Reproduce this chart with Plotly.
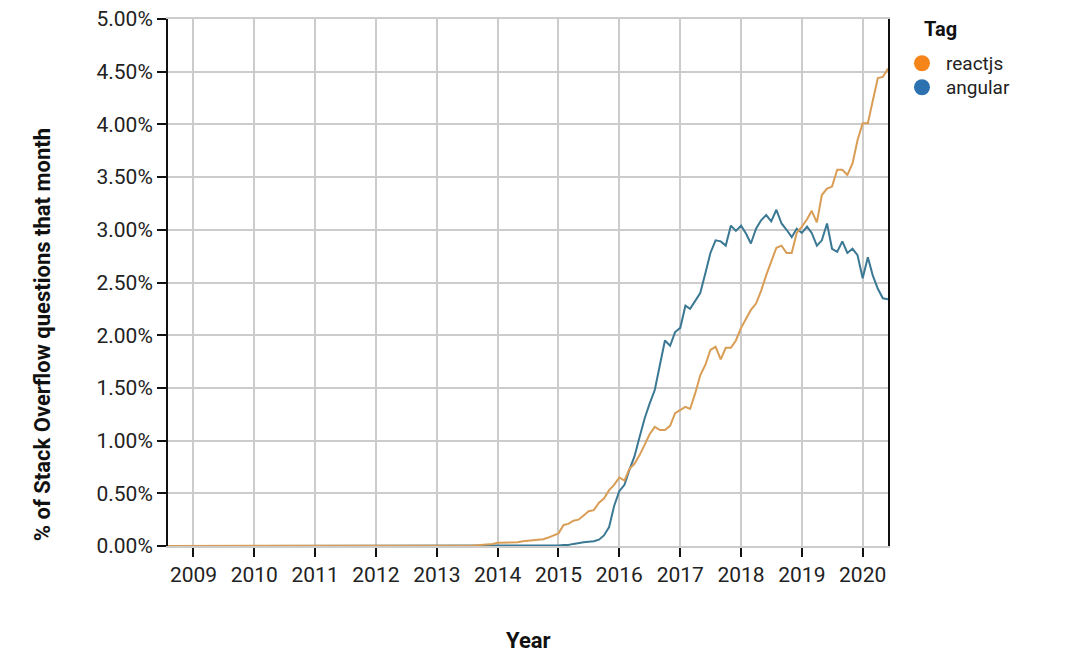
import plotly.graph_objects as go
import pandas as pd

# monthly share of Stack Overflow questions (%), Aug 2008 - Jun 2020
months = pd.date_range("2008-08-01", "2020-06-01", freq="MS")

reactjs = [
    0, 0, 0, 0, 0,                                                   # 2008 Aug-Dec
    0, 0, 0, 0, 0, 0, 0, 0, 0, 0, 0, 0,                              # 2009
    0, 0, 0, 0, 0, 0, 0, 0, 0, 0, 0, 0,                              # 2010
    0, 0, 0, 0, 0, 0, 0, 0, 0, 0, 0, 0,                              # 2011
    0, 0, 0, 0, 0, 0, 0, 0, 0, 0, 0, 0,                              # 2012
    0, 0, 0, 0, 0, 0.002, 0.004, 0.005, 0.008, 0.01, 0.012, 0.02,   # 2013
    0.03, 0.03, 0.028, 0.03, 0.035, 0.045, 0.05, 0.05, 0.055, 0.065, 0.08, 0.10,  # 2014
    0.12, 0.20, 0.21, 0.24, 0.25, 0.29, 0.33, 0.34, 0.41, 0.45, 0.53, 0.58,       # 2015
    0.65, 0.62, 0.73, 0.78, 0.86, 0.96, 1.06, 1.13, 1.10, 1.10, 1.14, 1.26,       # 2016
    1.29, 1.32, 1.30, 1.45, 1.62, 1.72, 1.86, 1.89, 1.77, 1.88, 1.88, 1.95,       # 2017
    2.07, 2.16, 2.24, 2.30, 2.42, 2.57, 2.70, 2.83, 2.85, 2.78, 2.78, 2.97,       # 2018
    3.03, 3.10, 3.18, 3.07, 3.33, 3.39, 3.41, 3.57, 3.57, 3.52, 3.63, 3.85,       # 2019
    4.01, 4.01, 4.22, 4.44, 4.45, 4.53,                                           # 2020
]

angular = [
    0, 0, 0, 0, 0,                                                   # 2008 Aug-Dec
    0, 0, 0, 0, 0, 0, 0, 0, 0, 0, 0, 0,                              # 2009
    0, 0, 0, 0, 0, 0, 0, 0, 0, 0, 0, 0,                              # 2010
    0, 0, 0, 0, 0, 0, 0, 0, 0, 0, 0, 0,                              # 2011
    0, 0, 0, 0, 0, 0, 0, 0, 0, 0, 0, 0,                              # 2012
    0, 0, 0, 0, 0, 0, 0, 0, 0, 0, 0, 0,                              # 2013
    0, 0, 0, 0, 0, 0, 0, 0, 0, 0, 0.002, 0.003,                      # 2014
    0.005, 0.01, 0.01, 0.02, 0.03, 0.035, 0.04, 0.045, 0.06, 0.10, 0.18, 0.38,    # 2015
    0.52, 0.58, 0.72, 0.85, 1.03, 1.21, 1.35, 1.48, 1.72, 1.95, 1.90, 2.03,       # 2016
    2.07, 2.28, 2.25, 2.33, 2.40, 2.59, 2.78, 2.90, 2.89, 2.85, 3.04, 2.99,       # 2017
    3.04, 2.96, 2.87, 3.01, 3.09, 3.14, 3.08, 3.19, 3.06, 3.00, 2.93, 3.01,       # 2018
    2.97, 3.03, 2.97, 2.85, 2.90, 3.06, 2.82, 2.79, 2.89, 2.78, 2.82, 2.76,       # 2019
    2.54, 2.74, 2.57, 2.44, 2.35, 2.34,                                           # 2020
]

y_ticks = [0, 0.5, 1, 1.5, 2, 2.5, 3, 3.5, 4, 4.5, 5]
y_labels = ["%.2f%%" % v for v in y_ticks]

tags = ["reactjs", "angular"]
tag_colors = ["#f58518", "#2d72b0"]

FONT = "Roboto, Arial, sans-serif"

fig = go.Figure()

fig.add_trace(go.Scatter(x=months, y=angular, mode="lines", name="angular",
                         line=dict(color="#3b7894", width=2)))
fig.add_trace(go.Scatter(x=months, y=reactjs, mode="lines", name="reactjs",
                         line=dict(color="#d99d55", width=2)))

# hand-placed key (tighter than plotly's own legend spacing)
annotations = [
    dict(text="<b>Tag</b>", xref="paper", yref="paper", x=1.047, y=0.981,
         xanchor="left", yanchor="middle", showarrow=False,
         font=dict(size=20, color="#111")),
]
shapes = []
for i, (tag, color) in enumerate(zip(tags, tag_colors)):
    yk = 0.916 - i * 0.0455
    shapes.append(dict(type="circle", xref="paper", yref="paper",
                       xsizemode="pixel", ysizemode="pixel",
                       xanchor=1.0472, yanchor=yk,
                       x0=-8, x1=8, y0=-8, y1=8,
                       fillcolor=color, line=dict(width=0)))
    annotations.append(dict(text=tag, xref="paper", yref="paper",
                            x=1.079, y=yk, xanchor="left", yanchor="middle",
                            borderpad=0, showarrow=False,
                            font=dict(size=19, color="#222")))

annotations += [
    dict(text="<b>Year</b>", xref="paper", yref="paper",
         x=0.5, y=-0.18, xanchor="center", yanchor="middle",
         showarrow=False, font=dict(size=22, color="#111")),
    dict(text="<b>% of Stack Overflow questions that month</b>",
         xref="paper", yref="paper", textangle=-90,
         x=-0.175, y=0.40, xanchor="center", yanchor="middle",
         showarrow=False, font=dict(size=22, color="#111")),
]

# page has an 8px body margin, so the figure is sized a bit under the window
fig.update_layout(
    width=1072, height=645,
    margin=dict(l=160, r=192, t=11, b=107, autoexpand=False),
    plot_bgcolor="white", paper_bgcolor="white",
    font=dict(family=FONT, size=21, color="#222"),
    showlegend=False,
    xaxis=dict(
        type="date",
        range=["2008-08-01", "2020-06-01"],
        tick0="2009-01-01", dtick="M12", tickformat="%Y",
        showgrid=True, gridcolor="#cccccc", gridwidth=2,
        ticks="outside", ticklen=9, tickwidth=2, tickcolor="#111",
        showline=True, linecolor="#cccccc", linewidth=2, mirror=True,
        zeroline=False, automargin=False,
    ),
    yaxis=dict(
        range=[0, 5],
        tickvals=y_ticks, ticktext=y_labels,
        showgrid=True, gridcolor="#cccccc", gridwidth=2,
        ticks="outside", ticklen=9, tickwidth=2, tickcolor="#111",
        showline=True, linecolor="#111", linewidth=2, mirror=True,
        zeroline=False, automargin=False, ticklabeloverflow="allow",
    ),
    shapes=shapes,
    annotations=annotations,
)

fig.write_html("out.html")
